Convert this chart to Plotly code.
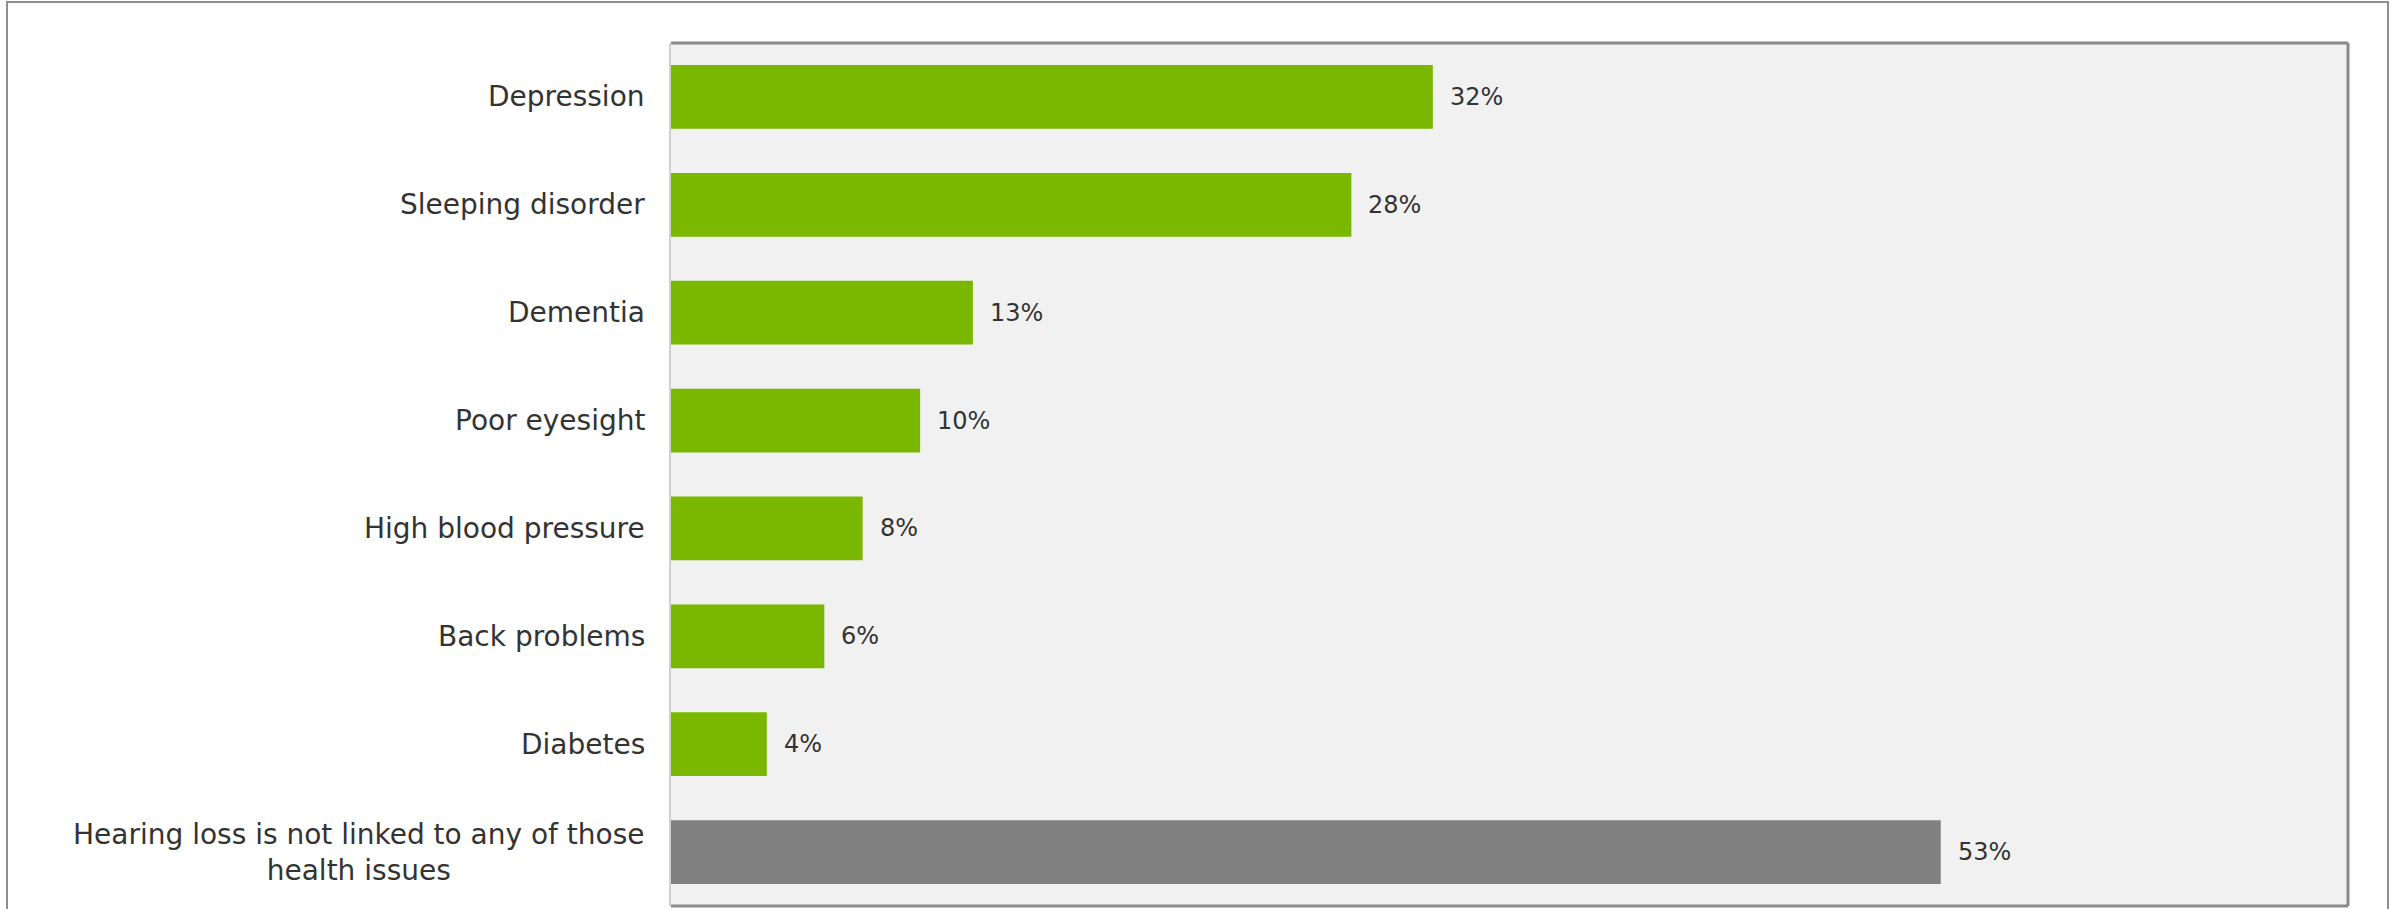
import plotly.graph_objects as go

categories = [
    "Depression",
    "Sleeping disorder",
    "Dementia",
    "Poor eyesight",
    "High blood pressure",
    "Back problems",
    "Diabetes",
    "Hearing loss is not linked to any of those<br>health issues",
]
values = [31.8, 28.4, 12.6, 10.4, 8.0, 6.4, 4.0, 53.0]
bar_colors = ["#7AB800"] * 7 + ["#808080"]

W, H = 2395, 909
ML, MR, MT, MB = 671, 47, 43, 3
PW, PH = W - ML - MR, H - MT - MB

FONT = "Verdana, DejaVu Sans, sans-serif"
TXT = "#333333"

fig = go.Figure(
    go.Bar(
        x=values,
        y=categories,
        orientation="h",
        width=0.59,
        marker=dict(color=bar_colors, line=dict(width=0)),
        hoverinfo="skip",
    )
)

annotations = []
for c, v in zip(categories, values):
    annotations.append(dict(
        x=v, y=c, xref="x", yref="y", xanchor="left", yanchor="middle",
        xshift=15, text=f"{v:.0f}%", showarrow=False,
        font=dict(family=FONT, size=24, color=TXT),
    ))
    annotations.append(dict(
        x=0, y=c, xref="paper", yref="y", xanchor="right", yanchor="middle",
        xshift=-24, text=c, showarrow=False, align="center",
        font=dict(family=FONT, size=28, color=TXT),
    ))

def px_x(p):
    return (p - ML) / PW

def px_y(p):
    return 1 - (p - MT) / PH

shapes = [
    # outer frame
    dict(type="rect", xref="paper", yref="paper",
         x0=px_x(7), x1=px_x(2388), y0=px_y(960), y1=px_y(2),
         line=dict(color="#8f8f8f", width=2), fillcolor="rgba(0,0,0,0)", layer="above"),
    # plot frame: top, right, bottom dark; left light
    dict(type="line", xref="paper", yref="paper", x0=0, x1=1, y0=1, y1=1,
         line=dict(color="#8a8a8a", width=3), layer="above"),
    dict(type="line", xref="paper", yref="paper", x0=1, x1=1, y0=0, y1=1,
         line=dict(color="#8a8a8a", width=3), layer="above"),
    dict(type="line", xref="paper", yref="paper", x0=0, x1=1, y0=0, y1=0,
         line=dict(color="#8a8a8a", width=3), layer="above"),
    dict(type="line", xref="paper", yref="paper", x0=px_x(670), x1=px_x(670), y0=0, y1=1,
         line=dict(color="#d0d0d0", width=2), layer="above"),
]

fig.update_layout(
    width=W, height=H,
    margin=dict(l=ML, r=MR, t=MT, b=MB, pad=0),
    paper_bgcolor="white",
    plot_bgcolor="#F1F1F1",
    showlegend=False,
    font=dict(family=FONT, color=TXT),
    xaxis=dict(range=[0, 70], showgrid=False, zeroline=False, showticklabels=False,
               ticks="", showline=False, fixedrange=True),
    yaxis=dict(range=[7.5, -0.5], showgrid=False, zeroline=False, showticklabels=False,
               ticks="", showline=False, fixedrange=True,
               categoryorder="array", categoryarray=categories),
    annotations=annotations,
    shapes=shapes,
)

fig.write_html("out.html")
